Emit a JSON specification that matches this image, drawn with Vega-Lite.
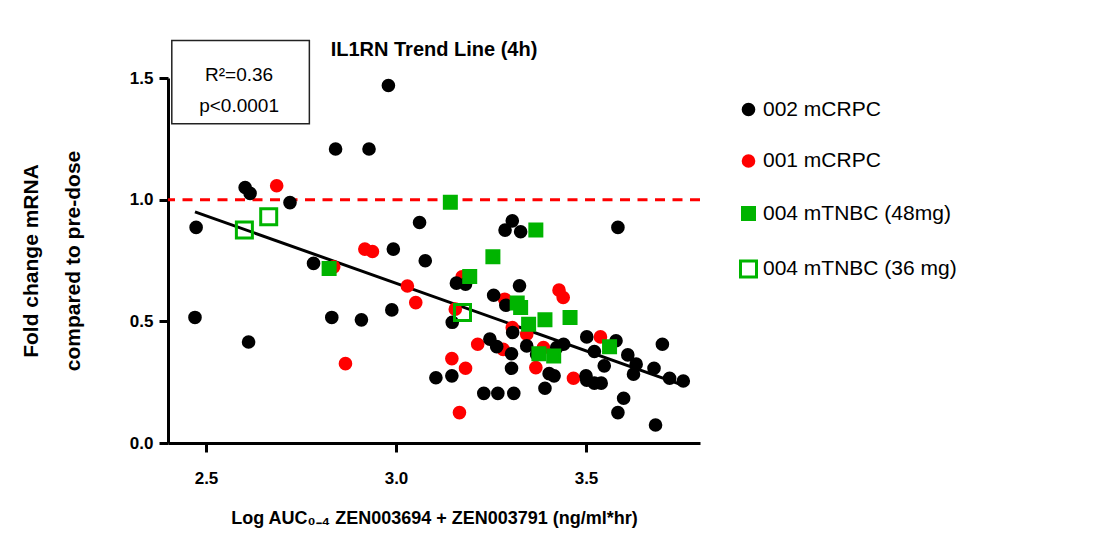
{
  "$schema": "https://vega.github.io/schema/vega-lite/v6.json",
  "width": 532,
  "height": 365,
  "padding": {"left": 20, "top": 39, "right": 5, "bottom": 5},
  "background": "white",
  "title": {"text": "IL1RN Trend Line (4h)", "font": "Liberation Sans", "fontSize": 20, "fontWeight": "bold", "color": "black", "offset": -20, "anchor": "middle"},
  "config": {
    "view": {"stroke": null},
    "axis": {"domainColor": "black", "domainWidth": 3, "tickColor": "black", "tickWidth": 3, "tickSize": 9, "grid": false, "labelFont": "Liberation Sans", "labelFontSize": 17, "labelFontWeight": "bold", "labelColor": "black", "titleFont": "Liberation Sans", "titleFontWeight": "bold", "titleColor": "black"},
    "legend": {"labelFont": "Liberation Sans", "labelFontSize": 21, "labelColor": "black", "labelLimit": 400}
  },
  "datasets": {
    "pts": [
      {"group": "001 mCRPC", "x": 2.686, "y": 1.057},
      {"group": "001 mCRPC", "x": 2.918, "y": 0.797},
      {"group": "001 mCRPC", "x": 2.938, "y": 0.787},
      {"group": "001 mCRPC", "x": 2.836, "y": 0.724},
      {"group": "001 mCRPC", "x": 3.030, "y": 0.645},
      {"group": "001 mCRPC", "x": 3.052, "y": 0.577},
      {"group": "001 mCRPC", "x": 2.867, "y": 0.326},
      {"group": "001 mCRPC", "x": 3.174, "y": 0.683},
      {"group": "001 mCRPC", "x": 3.286, "y": 0.591},
      {"group": "001 mCRPC", "x": 3.429, "y": 0.628},
      {"group": "001 mCRPC", "x": 3.440, "y": 0.598},
      {"group": "001 mCRPC", "x": 3.156, "y": 0.550},
      {"group": "001 mCRPC", "x": 3.306, "y": 0.474},
      {"group": "001 mCRPC", "x": 3.344, "y": 0.447},
      {"group": "001 mCRPC", "x": 3.215, "y": 0.406},
      {"group": "001 mCRPC", "x": 3.282, "y": 0.385},
      {"group": "001 mCRPC", "x": 3.388, "y": 0.392},
      {"group": "001 mCRPC", "x": 3.538, "y": 0.436},
      {"group": "001 mCRPC", "x": 3.368, "y": 0.310},
      {"group": "001 mCRPC", "x": 3.147, "y": 0.347},
      {"group": "001 mCRPC", "x": 3.183, "y": 0.307},
      {"group": "001 mCRPC", "x": 3.467, "y": 0.266},
      {"group": "001 mCRPC", "x": 3.167, "y": 0.125},
      {"group": "002 mCRPC", "x": 2.980, "y": 1.469},
      {"group": "002 mCRPC", "x": 2.841, "y": 1.208},
      {"group": "002 mCRPC", "x": 2.929, "y": 1.208},
      {"group": "002 mCRPC", "x": 2.603, "y": 1.050},
      {"group": "002 mCRPC", "x": 2.616, "y": 1.026},
      {"group": "002 mCRPC", "x": 2.721, "y": 0.988},
      {"group": "002 mCRPC", "x": 3.062, "y": 0.906},
      {"group": "002 mCRPC", "x": 2.474, "y": 0.886},
      {"group": "002 mCRPC", "x": 2.993, "y": 0.797},
      {"group": "002 mCRPC", "x": 3.077, "y": 0.749},
      {"group": "002 mCRPC", "x": 2.783, "y": 0.738},
      {"group": "002 mCRPC", "x": 2.989, "y": 0.547},
      {"group": "002 mCRPC", "x": 2.471, "y": 0.516},
      {"group": "002 mCRPC", "x": 2.831, "y": 0.516},
      {"group": "002 mCRPC", "x": 2.909, "y": 0.506},
      {"group": "002 mCRPC", "x": 2.612, "y": 0.415},
      {"group": "002 mCRPC", "x": 3.105, "y": 0.268},
      {"group": "002 mCRPC", "x": 3.306, "y": 0.913},
      {"group": "002 mCRPC", "x": 3.287, "y": 0.875},
      {"group": "002 mCRPC", "x": 3.328, "y": 0.868},
      {"group": "002 mCRPC", "x": 3.584, "y": 0.886},
      {"group": "002 mCRPC", "x": 3.159, "y": 0.657},
      {"group": "002 mCRPC", "x": 3.183, "y": 0.653},
      {"group": "002 mCRPC", "x": 3.325, "y": 0.646},
      {"group": "002 mCRPC", "x": 3.257, "y": 0.607},
      {"group": "002 mCRPC", "x": 3.289, "y": 0.566},
      {"group": "002 mCRPC", "x": 3.148, "y": 0.496},
      {"group": "002 mCRPC", "x": 3.307, "y": 0.454},
      {"group": "002 mCRPC", "x": 3.247, "y": 0.427},
      {"group": "002 mCRPC", "x": 3.265, "y": 0.396},
      {"group": "002 mCRPC", "x": 3.304, "y": 0.367},
      {"group": "002 mCRPC", "x": 3.344, "y": 0.399},
      {"group": "002 mCRPC", "x": 3.370, "y": 0.365},
      {"group": "002 mCRPC", "x": 3.441, "y": 0.406},
      {"group": "002 mCRPC", "x": 3.423, "y": 0.392},
      {"group": "002 mCRPC", "x": 3.502, "y": 0.436},
      {"group": "002 mCRPC", "x": 3.579, "y": 0.420},
      {"group": "002 mCRPC", "x": 3.522, "y": 0.376},
      {"group": "002 mCRPC", "x": 3.610, "y": 0.362},
      {"group": "002 mCRPC", "x": 3.632, "y": 0.324},
      {"group": "002 mCRPC", "x": 3.548, "y": 0.317},
      {"group": "002 mCRPC", "x": 3.625, "y": 0.283},
      {"group": "002 mCRPC", "x": 3.679, "y": 0.307},
      {"group": "002 mCRPC", "x": 3.701, "y": 0.406},
      {"group": "002 mCRPC", "x": 3.720, "y": 0.266},
      {"group": "002 mCRPC", "x": 3.756, "y": 0.255},
      {"group": "002 mCRPC", "x": 3.304, "y": 0.307},
      {"group": "002 mCRPC", "x": 3.147, "y": 0.276},
      {"group": "002 mCRPC", "x": 3.403, "y": 0.285},
      {"group": "002 mCRPC", "x": 3.416, "y": 0.276},
      {"group": "002 mCRPC", "x": 3.500, "y": 0.276},
      {"group": "002 mCRPC", "x": 3.502, "y": 0.258},
      {"group": "002 mCRPC", "x": 3.522, "y": 0.246},
      {"group": "002 mCRPC", "x": 3.540, "y": 0.246},
      {"group": "002 mCRPC", "x": 3.392, "y": 0.225},
      {"group": "002 mCRPC", "x": 3.231, "y": 0.204},
      {"group": "002 mCRPC", "x": 3.268, "y": 0.204},
      {"group": "002 mCRPC", "x": 3.310, "y": 0.204},
      {"group": "002 mCRPC", "x": 3.599, "y": 0.184},
      {"group": "002 mCRPC", "x": 3.584, "y": 0.125},
      {"group": "002 mCRPC", "x": 3.683, "y": 0.074},
      {"group": "004 mTNBC (48mg)", "x": 2.824, "y": 0.717},
      {"group": "004 mTNBC (48mg)", "x": 3.143, "y": 0.989},
      {"group": "004 mTNBC (48mg)", "x": 3.368, "y": 0.875},
      {"group": "004 mTNBC (48mg)", "x": 3.255, "y": 0.765},
      {"group": "004 mTNBC (48mg)", "x": 3.194, "y": 0.684},
      {"group": "004 mTNBC (48mg)", "x": 3.319, "y": 0.575},
      {"group": "004 mTNBC (48mg)", "x": 3.328, "y": 0.557},
      {"group": "004 mTNBC (48mg)", "x": 3.392, "y": 0.506},
      {"group": "004 mTNBC (48mg)", "x": 3.458, "y": 0.516},
      {"group": "004 mTNBC (48mg)", "x": 3.349, "y": 0.488},
      {"group": "004 mTNBC (48mg)", "x": 3.376, "y": 0.367},
      {"group": "004 mTNBC (48mg)", "x": 3.415, "y": 0.358},
      {"group": "004 mTNBC (48mg)", "x": 3.562, "y": 0.396},
      {"group": "004 mTNBC (36 mg)", "x": 2.665, "y": 0.930},
      {"group": "004 mTNBC (36 mg)", "x": 2.601, "y": 0.875},
      {"group": "004 mTNBC (36 mg)", "x": 3.175, "y": 0.536}
    ],
    "fit": [
      {"x": 2.471, "y": 0.950},
      {"x": 3.756, "y": 0.237}
    ]
  },
  "layer": [
    {
      "data": {"values": [{}]},
      "mark": {"type": "rule", "color": "#ff0000", "strokeWidth": 3, "strokeDash": [10, 7.5]},
      "encoding": {"y": {"datum": 1, "type": "quantitative", "scale": {"domain": [0, 1.5], "nice": false}}}
    },
    {
      "data": {"name": "fit"},
      "mark": {"type": "line", "color": "black", "strokeWidth": 3},
      "encoding": {
        "x": {"field": "x", "type": "quantitative", "scale": {"domain": [2.4, 3.8], "nice": false, "zero": false}},
        "y": {"field": "y", "type": "quantitative", "scale": {"domain": [0, 1.5], "nice": false}}
      }
    },
    {
      "data": {"name": "pts"},
      "mark": {"type": "point", "filled": false, "strokeWidth": 3, "opacity": 1},
      "encoding": {
        "x": {"field": "x", "type": "quantitative", "scale": {"domain": [2.4, 3.8], "nice": false, "zero": false}, "axis": {"values": [2.5, 3.0, 3.5], "format": ".1f", "labelPadding": 18, "title": "Log AUC₀₋₄ ZEN003694 + ZEN003791 (ng/ml*hr)", "titleFontSize": 18, "titlePadding": 23}},
        "y": {"field": "y", "type": "quantitative", "scale": {"domain": [0, 1.5], "nice": false}, "axis": {"values": [0, 0.5, 1.0, 1.5], "format": ".1f", "labelPadding": 6, "title": ["Fold change mRNA", "compared to pre-dose"], "titleFontSize": 21, "titleLineHeight": 42, "titlePadding": 46}},
        "shape": {"field": "group", "type": "nominal", "scale": {"domain": ["002 mCRPC", "001 mCRPC", "004 mTNBC (48mg)", "004 mTNBC (36 mg)"], "range": ["circle", "circle", "square", "square"]}, "legend": {"title": null, "orient": "none", "legendX": 570, "legendY": 21, "rowPadding": 28.5, "symbolStrokeWidth": 3, "encode": {"symbols": {"update": {"size": {"signal": "datum.value === '004 mTNBC (36 mg)' ? 256 : (datum.value === '004 mTNBC (48mg)' ? 49 : 30)"}}}}}},
        "fill": {"field": "group", "type": "nominal", "scale": {"domain": ["002 mCRPC", "001 mCRPC", "004 mTNBC (48mg)", "004 mTNBC (36 mg)"], "range": ["#000000", "#ff0000", "#00b400", "transparent"]}, "legend": {"title": null, "orient": "none", "legendX": 570, "legendY": 21, "rowPadding": 28.5, "symbolStrokeWidth": 3, "encode": {"symbols": {"update": {"size": {"signal": "datum.value === '004 mTNBC (36 mg)' ? 256 : (datum.value === '004 mTNBC (48mg)' ? 49 : 30)"}}}}}},
        "stroke": {"field": "group", "type": "nominal", "scale": {"domain": ["002 mCRPC", "001 mCRPC", "004 mTNBC (48mg)", "004 mTNBC (36 mg)"], "range": ["#000000", "#ff0000", "#00b400", "#00b400"]}, "legend": {"title": null, "orient": "none", "legendX": 570, "legendY": 21, "rowPadding": 28.5, "symbolStrokeWidth": 3, "encode": {"symbols": {"update": {"size": {"signal": "datum.value === '004 mTNBC (36 mg)' ? 256 : (datum.value === '004 mTNBC (48mg)' ? 49 : 30)"}}}}}},
        "size": {"field": "group", "type": "nominal", "scale": {"type": "ordinal", "domain": ["002 mCRPC", "001 mCRPC", "004 mTNBC (48mg)", "004 mTNBC (36 mg)"], "range": [113, 113, 144, 256]}, "legend": {"title": null, "orient": "none", "legendX": 570, "legendY": 21, "rowPadding": 28.5, "symbolStrokeWidth": 3, "encode": {"symbols": {"update": {"size": {"signal": "datum.value === '004 mTNBC (36 mg)' ? 256 : (datum.value === '004 mTNBC (48mg)' ? 49 : 30)"}}}}}}
      }
    },
    {
      "data": {"values": [{}]},
      "mark": {"type": "rect", "fill": "white", "stroke": "#222222", "strokeWidth": 1.5},
      "encoding": {
        "x": {"datum": 2.41, "type": "quantitative", "scale": {"domain": [2.4, 3.8], "nice": false, "zero": false}},
        "x2": {"datum": 2.772},
        "y": {"datum": 1.654, "type": "quantitative", "scale": {"domain": [0, 1.5], "nice": false}},
        "y2": {"datum": 1.312}
      }
    },
    {
      "data": {"values": [{}]},
      "mark": {"type": "text", "text": "R²=0.36", "font": "Liberation Sans", "fontSize": 19, "align": "center", "baseline": "alphabetic", "color": "black"},
      "encoding": {
        "x": {"datum": 2.587, "type": "quantitative", "scale": {"domain": [2.4, 3.8], "nice": false, "zero": false}},
        "y": {"datum": 1.489, "type": "quantitative", "scale": {"domain": [0, 1.5], "nice": false}}
      }
    },
    {
      "data": {"values": [{}]},
      "mark": {"type": "text", "text": "p<0.0001", "font": "Liberation Sans", "fontSize": 19, "align": "center", "baseline": "alphabetic", "color": "black"},
      "encoding": {
        "x": {"datum": 2.587, "type": "quantitative", "scale": {"domain": [2.4, 3.8], "nice": false, "zero": false}},
        "y": {"datum": 1.362, "type": "quantitative", "scale": {"domain": [0, 1.5], "nice": false}}
      }
    }
  ]
}
